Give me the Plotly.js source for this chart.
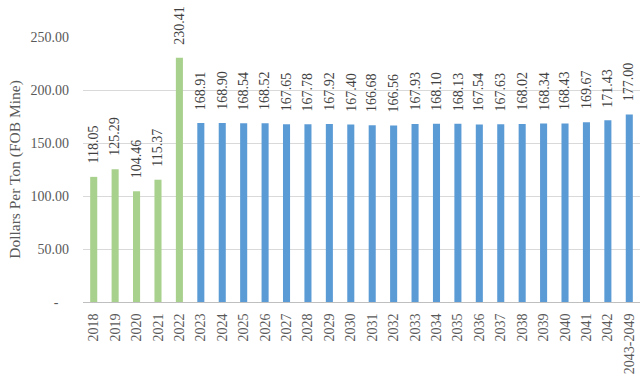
<!DOCTYPE html>
<html>
<head>
<meta charset="utf-8">
<script src="https://cdn.plot.ly/plotly-3.0.1.min.js"></script>
<style>html,body{margin:0;padding:0;background:#fff;}#chart{width:641px;height:375px;}</style>
</head>
<body>
<div id="chart"></div>
<script>
const years = ["2018","2019","2020","2021","2022","2023","2024","2025","2026","2027","2028","2029","2030","2031","2032","2033","2034","2035","2036","2037","2038","2039","2040","2041","2042","2043-2049"];
const prices = [118.05,125.29,104.46,115.37,230.41,168.91,168.90,168.54,168.52,167.65,167.78,167.92,167.40,166.68,166.56,167.93,168.10,168.13,167.54,167.63,168.02,168.34,168.43,169.67,171.43,177.00];
const historicalCount = 5;
const yTickVals = [0,50,100,150,200,250];
const yTickText = ["-\u00a0\u00a0\u00a0","50.00","100.00","150.00","200.00","250.00"];

const serif = "Liberation Serif, Times New Roman, serif";
const colors = years.map((y,i)=> i < historicalCount ? "#A9D18E" : "#5B9BD5");

const trace = {
  type: "bar",
  x: years,
  y: prices,
  marker: {color: colors},
  width: 0.33,
  hoverinfo: "none"
};

const annotations = years.map((yr,i)=>({
  x: i, y: prices[i], xref: "x", yref: "y",
  text: prices[i].toFixed(2),
  textangle: -90,
  showarrow: false,
  xanchor: "center", yanchor: "bottom",
  yshift: 11,
  font: {family: serif, size: 14, color: "#404040"}
}));

const layout = {
  width: 641, height: 375,
  margin: {l: 83, r: 1, t: 37, b: 73},
  paper_bgcolor: "#fff", plot_bgcolor: "#fff",
  showlegend: false,
  font: {family: serif, size: 14, color: "#595959"},
  annotations: annotations,
  xaxis: {
    type: "category",
    range: [-0.5, years.length - 0.5],
    autorange: false,
    tickangle: -90,
    showgrid: false,
    showline: true, linecolor: "#bfbfbf", linewidth: 1,
    ticks: "", ticklen: 0,
    ticklabelstandoff: 5,
    tickfont: {family: serif, size: 14, color: "#595959"}
  },
  yaxis: {
    range: [0, 250],
    autorange: false,
    tickvals: yTickVals,
    ticktext: yTickText,
    showgrid: true, gridcolor: "#d9d9d9", gridwidth: 1,
    zeroline: false,
    showline: false,
    ticks: "",
    ticklabelstandoff: 13,
    tickfont: {family: serif, size: 14, color: "#595959"},
    title: {text: "Dollars Per Ton (FOB Mine)", font: {family: serif, size: 15.5, color: "#595959"}, standoff: 6}
  }
};

Plotly.newPlot("chart", [trace], layout, {displayModeBar: false, staticPlot: true});
</script>
</body>
</html>
